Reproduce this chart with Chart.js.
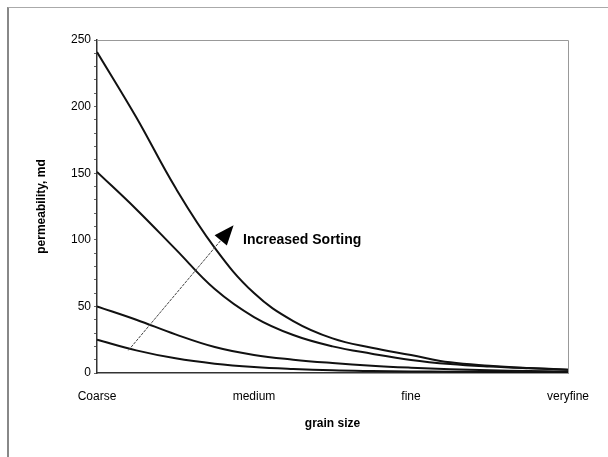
<!DOCTYPE html>
<html>
<head>
<meta charset="utf-8">
<script src="https://cdn.jsdelivr.net/npm/chart.js@4"></script>
<style>
  html, body { margin: 0; padding: 0; background: #fff; }
  #wrap { position: relative; width: 608px; height: 457px; }
  #frame { position: absolute; left: 7px; top: 7px; width: 610px; height: 460px;
           border-left: 2px solid #888; border-top: 1px solid #aaa; }
</style>
</head>
<body>
<div id="wrap">
  <div id="frame"></div>
  <canvas id="chart" width="608" height="457"></canvas>
</div>
<script>
// grain size classes (x = 0..3)
const grainLabels = ['Coarse', 'medium', 'fine', 'veryfine'];
const xPos = [0, 0.25, 0.5, 0.75, 1, 1.25, 1.5, 1.75, 2, 2.25, 2.5, 2.75, 3];

// permeability, md - one curve per sorting class
const sortBest = [241, 192, 139, 94, 60, 39, 26, 19, 13.5, 8, 5.5, 3.8, 2.5];
const sortGood = [151, 123, 93, 63, 42, 28.5, 20, 14.5, 9.8, 6.7, 4.8, 3.5, 2.5];
const sortFair = [50, 40, 29, 19.5, 13.5, 10, 7.5, 5.5, 4, 2.8, 2, 1.5, 1];
const sortPoor = [25, 17, 11, 7, 4.5, 3, 2, 1.5, 1.2, 1, 0.8, 0.6, 0.5];

// annotation arrow (data coords)
const arrowFrom = [0.2, 17];
const arrowTo = [0.87, 111];
const arrowText = 'Increased Sorting';
const arrowTextAt = [0.93, 100];

function toPoints(values) {
    return values.map((v, i) => ({ x: xPos[i], y: v }));
}

function makeSet(values) {
    return {
        data: toPoints(values),
        borderColor: '#111',
        borderWidth: 2,
        pointRadius: 0,
        tension: 0.4,
        fill: false
    };
}

const arrowPlugin = {
    id: 'arrowPlugin',
    afterDatasetsDraw(chart) {
        const ctx = chart.ctx;
        const xs = chart.scales.x, ys = chart.scales.y;
        const x1 = xs.getPixelForValue(arrowFrom[0]), y1 = ys.getPixelForValue(arrowFrom[1]);
        const x2 = xs.getPixelForValue(arrowTo[0]), y2 = ys.getPixelForValue(arrowTo[1]);
        const ang = Math.atan2(y2 - y1, x2 - x1);
        const headLen = 20, headW = 8;
        const bx = x2 - headLen * Math.cos(ang), by = y2 - headLen * Math.sin(ang);

        ctx.save();
        ctx.strokeStyle = '#444';
        ctx.lineWidth = 1;
        ctx.setLineDash([3, 1]);
        ctx.beginPath();
        ctx.moveTo(x1, y1);
        ctx.lineTo(bx, by);
        ctx.stroke();
        ctx.setLineDash([]);

        ctx.fillStyle = '#000';
        ctx.beginPath();
        ctx.moveTo(x2, y2);
        ctx.lineTo(bx + headW * Math.sin(ang), by - headW * Math.cos(ang));
        ctx.lineTo(bx - headW * Math.sin(ang), by + headW * Math.cos(ang));
        ctx.closePath();
        ctx.fill();

        ctx.font = 'bold 14px "Liberation Sans", Arial, sans-serif';
        ctx.textBaseline = 'middle';
        ctx.textAlign = 'left';
        ctx.fillText(arrowText, xs.getPixelForValue(arrowTextAt[0]), ys.getPixelForValue(arrowTextAt[1]));
        ctx.restore();
    }
};

const boxPlugin = {
    id: 'boxPlugin',
    beforeDatasetsDraw(chart) {
        const a = chart.chartArea, ctx = chart.ctx;
        ctx.save();
        ctx.strokeStyle = '#999';
        ctx.lineWidth = 1;
        ctx.beginPath();
        ctx.moveTo(a.left, a.top + 0.5);
        ctx.lineTo(a.right + 0.5, a.top + 0.5);
        ctx.lineTo(a.right + 0.5, a.bottom);
        ctx.stroke();
        ctx.restore();
    }
};

new Chart(document.getElementById('chart'), {
    type: 'line',
    data: {
        datasets: [makeSet(sortBest), makeSet(sortGood), makeSet(sortFair), makeSet(sortPoor)]
    },
    options: {
        responsive: false,
        animation: false,
        layout: { padding: { top: 40, right: 40, left: 30, bottom: 22 } },
        plugins: { legend: { display: false }, tooltip: { enabled: false } },
        scales: {
            x: {
                type: 'linear',
                min: 0,
                max: 3,
                grid: { display: false, drawTicks: false },
                border: { color: '#333', width: 1.5 },
                ticks: {
                    stepSize: 1,
                    padding: 16,
                    color: '#000',
                    font: { family: '"Liberation Sans", Arial, sans-serif', size: 12 },
                    callback: v => grainLabels[v]
                },
                title: {
                    display: true,
                    text: 'grain size',
                    color: '#000',
                    padding: { top: 10 },
                    font: { family: '"Liberation Sans", Arial, sans-serif', size: 12, weight: 'bold' }
                },
                afterFit: s => { s.height = 62; }
            },
            y: {
                min: 0,
                max: 250,
                grid: { display: true, drawOnChartArea: false, drawTicks: true, tickLength: 3, color: '#666' },
                border: { color: '#333', width: 1.5 },
                ticks: {
                    stepSize: 10,
                    autoSkip: false,
                    padding: 3,
                    color: '#000',
                    font: { family: '"Liberation Sans", Arial, sans-serif', size: 12 },
                    callback: v => (v % 50 === 0 ? v : '')
                },
                title: {
                    display: true,
                    text: 'permeability, md',
                    color: '#000',
                    padding: { bottom: 8 },
                    font: { family: '"Liberation Sans", Arial, sans-serif', size: 12, weight: 'bold' }
                },
                afterFit: s => { s.width = 67; }
            }
        }
    },
    plugins: [boxPlugin, arrowPlugin]
});
</script>
</body>
</html>
